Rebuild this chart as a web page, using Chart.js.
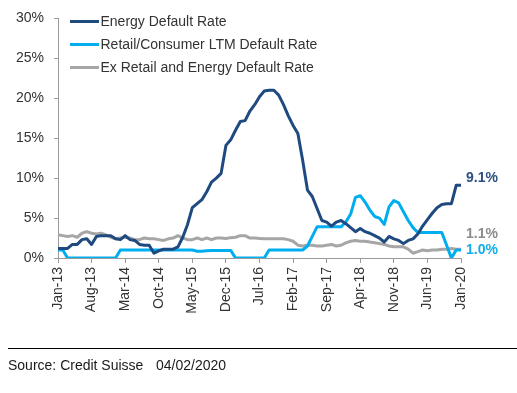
<!DOCTYPE html>
<html>
<head>
<meta charset="utf-8">
<script src="https://cdn.jsdelivr.net/npm/chart.js@4.4.1/dist/chart.umd.min.js"></script>
<style>
html,body{margin:0;padding:0;background:#fff;}
canvas{display:block;}
</style>
</head>
<body>
<canvas id="c" width="517" height="393"></canvas>
<script>
const months = [
 'Jan-13','Feb-13','Mar-13','Apr-13','May-13','Jun-13','Jul-13','Aug-13','Sep-13','Oct-13','Nov-13','Dec-13',
 'Jan-14','Feb-14','Mar-14','Apr-14','May-14','Jun-14','Jul-14','Aug-14','Sep-14','Oct-14','Nov-14','Dec-14',
 'Jan-15','Feb-15','Mar-15','Apr-15','May-15','Jun-15','Jul-15','Aug-15','Sep-15','Oct-15','Nov-15','Dec-15',
 'Jan-16','Feb-16','Mar-16','Apr-16','May-16','Jun-16','Jul-16','Aug-16','Sep-16','Oct-16','Nov-16','Dec-16',
 'Jan-17','Feb-17','Mar-17','Apr-17','May-17','Jun-17','Jul-17','Aug-17','Sep-17','Oct-17','Nov-17','Dec-17',
 'Jan-18','Feb-18','Mar-18','Apr-18','May-18','Jun-18','Jul-18','Aug-18','Sep-18','Oct-18','Nov-18','Dec-18',
 'Jan-19','Feb-19','Mar-19','Apr-19','May-19','Jun-19','Jul-19','Aug-19','Sep-19','Oct-19','Nov-19','Dec-19',
 'Jan-20'
];
const tickMonths = ['Jan-13','Aug-13','Mar-14','Oct-14','May-15','Dec-15','Jul-16','Feb-17','Sep-17','Apr-18','Nov-18','Jun-19','Jan-20'];
const yTicks = [0,5,10,15,20,25,30];

const energy = [1.2,1.2,1.2,1.7,1.7,2.3,2.4,1.7,2.7,2.8,
 2.8,2.8,2.4,2.3,2.8,2.3,2.2,1.7,1.6,1.6,
 0.6,0.9,1.1,1.1,1.1,1.4,2.6,4.2,6.3,6.8,
 7.3,8.3,9.5,10.0,10.6,14.1,14.8,16.0,17.1,17.2,
 18.4,19.2,20.2,20.9,21.0,21.0,20.4,19.2,17.8,16.6,
 15.6,12.2,8.5,7.7,6.2,4.7,4.5,4.0,4.5,4.7,
 4.3,3.8,3.3,3.7,3.3,3.1,2.8,2.5,2.0,2.7,
 2.4,2.2,1.8,2.2,2.4,3.0,4.0,4.8,5.6,6.3,
 6.7,6.8,6.8,9.1,9.1];
const retail = [1.0,1.0,0,0,0,0,0,0,0,0,
 0,0,0,1.0,1.0,1.0,1.0,1.0,1.0,1.0,
 1.0,1.0,1.0,1.0,1.0,1.0,1.0,1.0,1.0,0.85,
 0.85,0.9,0.95,0.95,0.95,0.95,0.95,0,0,0,
 0,0,0,0,1.0,1.0,1.0,1.0,1.0,1.0,
 1.0,1.0,1.5,2.7,3.9,3.9,3.9,3.9,3.9,3.9,
 4.5,5.5,7.6,7.8,7.0,6.0,5.2,5.0,4.2,6.4,
 7.2,6.9,5.8,4.7,3.8,3.2,3.2,3.2,3.2,3.2,
 3.2,1.6,0,1.0,1.0];
const exRetail = [2.9,2.8,2.7,2.8,2.6,3.1,3.3,3.1,3.0,3.1,
 2.9,2.6,2.4,2.5,2.6,2.5,2.3,2.3,2.5,2.4,
 2.4,2.3,2.2,2.4,2.5,2.8,2.5,2.3,2.3,2.5,
 2.3,2.5,2.3,2.5,2.5,2.45,2.55,2.6,2.8,2.8,
 2.5,2.5,2.45,2.4,2.4,2.4,2.4,2.4,2.3,2.1,
 1.6,1.5,1.6,1.6,1.5,1.5,1.6,1.7,1.5,1.6,
 1.9,2.1,2.2,2.1,2.1,2.0,1.9,1.8,1.7,1.5,
 1.4,1.4,1.4,1.1,0.6,0.8,1.0,0.9,1.0,1.0,
 1.1,1.1,1.2,1.1,1.1];

const seriesNames = ['Energy Default Rate','Retail/Consumer LTM Default Rate','Ex Retail and Energy Default Rate'];
const sourceText = 'Source: Credit Suisse';
const dateText = '04/02/2020';

const C_ENERGY = '#1F4A80';
const C_RETAIL = '#00ADEF';
const C_EX = '#A6A6A6';
const FONT = '"Liberation Sans", Arial, sans-serif';

const overlay = {
  id: 'overlay',
  afterDraw(chart) {
    const ctx = chart.ctx;
    const xs = chart.scales.x, ys = chart.scales.y;
    ctx.save();
    // legend
    const rows = [21.5, 44.5, 67.5];
    chart.data.datasets.forEach((ds, i) => {
      ctx.strokeStyle = ds.borderColor;
      ctx.lineWidth = 3;
      ctx.beginPath();
      ctx.moveTo(70, rows[i]);
      ctx.lineTo(99, rows[i]);
      ctx.stroke();
      ctx.fillStyle = '#333333';
      ctx.font = '14px ' + FONT;
      ctx.textBaseline = 'middle';
      ctx.textAlign = 'left';
      ctx.fillText(ds.label, 100.5, rows[i] + 0.5);
    });
    // end labels (energy, retail, ex-retail)
    const offs = [-7, 0, -15];
    const labCols = ['#2C4F80', '#12ADEB', '#8C8C8C'];
    chart.data.datasets.forEach((ds, i) => {
      const n = ds.data.length - 1;
      const v = ds.data[n];
      const px = xs.getPixelForValue(n) + 5;
      const py = ys.getPixelForValue(v) + offs[i];
      ctx.fillStyle = labCols[i];
      ctx.font = 'bold 14px ' + FONT;
      ctx.textBaseline = 'middle';
      ctx.textAlign = 'left';
      ctx.fillText(v.toFixed(1) + '%', px, py);
    });
    // source rule and text
    ctx.strokeStyle = '#000000';
    ctx.lineWidth = 1;
    ctx.beginPath();
    ctx.moveTo(8, 348.5);
    ctx.lineTo(517, 348.5);
    ctx.stroke();
    ctx.fillStyle = '#1a1a1a';
    ctx.font = '14px ' + FONT;
    ctx.textBaseline = 'middle';
    ctx.fillText(sourceText, 8, 366);
    ctx.fillText(dateText, 156, 366);
    ctx.restore();
  }
};

new Chart(document.getElementById('c'), {
  type: 'line',
  data: {
    labels: months,
    datasets: [
      {label: seriesNames[0], data: energy, borderColor: C_ENERGY, borderWidth: 3},
      {label: seriesNames[1], data: retail, borderColor: C_RETAIL, borderWidth: 3},
      {label: seriesNames[2], data: exRetail, borderColor: C_EX, borderWidth: 3}
    ]
  },
  options: {
    responsive: false,
    animation: false,
    devicePixelRatio: 1,
    layout: {padding: {left: 0, right: 56, top: 17, bottom: 75}},
    elements: {point: {radius: 0}, line: {tension: 0, borderCapStyle: 'butt', borderJoinStyle: 'round'}},
    plugins: {legend: {display: false}, tooltip: {enabled: false}},
    scales: {
      x: {
        type: 'category',
        offset: false,
        afterFit: s => { s.height = 60; },
        afterBuildTicks: s => { s.ticks = s.ticks.filter(t => tickMonths.includes(months[t.value])); },
        grid: {display: true, drawOnChartArea: false, drawTicks: true, tickLength: 5, color: '#9a9a9a'},
        border: {display: true, color: '#9a9a9a', width: 1},
        ticks: {autoSkip: false, maxRotation: 90, minRotation: 90, padding: 4, color: '#333333', font: {family: FONT, size: 14}}
      },
      y: {
        min: 0, max: 30,
        afterFit: s => { s.width = 58; },
        afterBuildTicks: s => { s.ticks = yTicks.map(v => ({value: v})); },
        grid: {display: true, drawOnChartArea: false, drawTicks: true, tickLength: 4, color: '#9a9a9a'},
        border: {display: true, color: '#9a9a9a', width: 1},
        ticks: {padding: 10, color: '#333333', font: {family: FONT, size: 14}, callback: v => v + '%'}
      }
    }
  },
  plugins: [overlay]
});
</script>
</body>
</html>
